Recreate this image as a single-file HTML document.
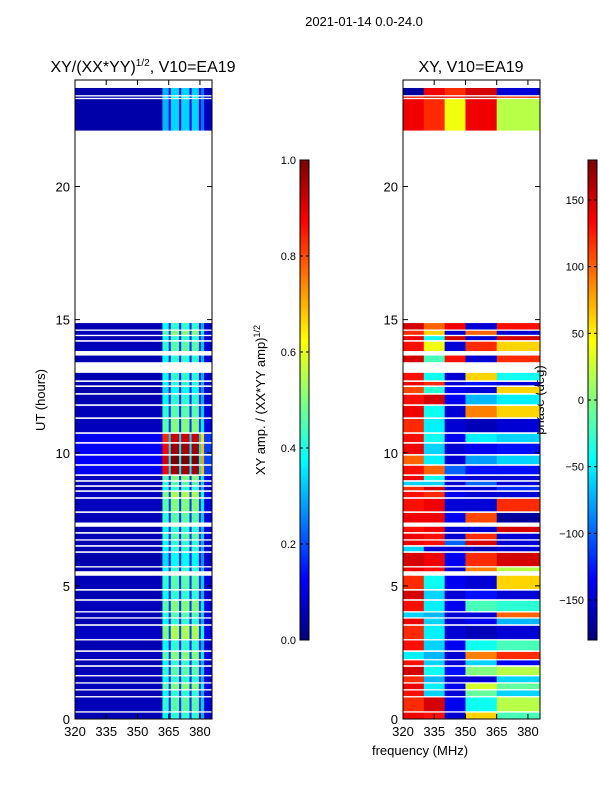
<!DOCTYPE html>
<html><head><meta charset="utf-8"><style>
body{margin:0;background:#fff;}
svg{display:block;font-family:"Liberation Sans",sans-serif;}
</style></head><body>
<svg id="fig" width="600" height="800" xmlns="http://www.w3.org/2000/svg">
<text x="364" y="26" font-size="13" text-anchor="middle">2021-01-14 0.0-24.0</text>
<text x="143" y="72" font-size="16" text-anchor="middle">XY/(XX*YY)<tspan font-size="10" dy="-6">1/2</tspan><tspan dy="6">, V10=EA19</tspan></text>
<text x="471" y="72" font-size="16" text-anchor="middle">XY, V10=EA19</text>
<text transform="translate(45,400) rotate(-90)" font-size="13" text-anchor="middle">UT (hours)</text>
<text x="420" y="755" font-size="13" text-anchor="middle">frequency (MHz)</text>
<text transform="translate(265,400) rotate(-90)" font-size="13" text-anchor="middle">XY amp. / (XX*YY amp)<tspan font-size="9" dy="-5">1/2</tspan></text>
<text transform="translate(544,400) rotate(-90)" font-size="13" text-anchor="middle">phase (deg)</text>
<g id="left"></g><g id="right"></g><g id="cb"></g>
</svg>
<script>
// time rows with data (hours)
const rowStart=[0.02,0.29,0.86,1.12,1.38,1.65,2.02,2.25,2.58,3.0,3.56,3.82,4.05,4.5,4.88,5.55,5.74,6.3,6.53,6.75,7.02,7.38,7.8,8.33,8.59,8.78,8.97,9.19,9.57,9.95,10.4,10.77,11.33,11.82,12.24,12.53,12.72,13.4,13.82,14.23,14.43,14.63,22.1,23.33,23.43];
const rowEnd=[0.24,0.81,1.07,1.33,1.6,1.96,2.2,2.52,2.95,3.5,3.77,4.0,4.44,4.82,5.38,5.69,6.24,6.47,6.7,6.96,7.22,7.74,8.27,8.53,8.72,8.91,9.13,9.51,9.89,10.34,10.71,11.27,11.76,12.18,12.47,12.66,13.0,13.65,14.17,14.38,14.58,14.87,23.28,23.38,23.7];
const ampLevel=[1,1.1,1,1.2,1,1.1,1,1.2,1,1.3,1,1.1,1.2,1,1.1,1,0.9,1,1,1.1,1,1.1,1.2,1.3,1,1.1,1.2,2.3,2.4,2.3,2.2,1.2,1.1,1,0.9,1,1,1,1.1,1,1.2,1,0.8,0.9,0.8];
// amplitude frequency channels
const ampEdges=[320,362,365,366,370,371,375,376,379.5,380.5,382,385.8];
const ampProfile=[0.05,0.38,0.15,0.42,0.15,0.42,0.15,0.42,0.15,0.3,0.08];
// phase bands
const phEdges=[320,330,340,350,365,385.8];
const phase=[[140,130,-150,60,-20],[120,150,-140,-40,20],[130,-60,-150,-10,-60],[140,-50,-140,30,-10],[120,-70,-150,-150,-60],[150,-40,-130,0,20],[130,-60,-150,-60,-140],[-50,-70,-150,90,120],[130,-60,-140,-40,-20],[120,-50,-150,-160,-150],[140,-60,-150,-140,-70],[-60,-70,-150,-150,100],[130,-50,-140,-20,-30],[150,-60,-150,-130,-150],[120,-40,-140,-150,60],[140,130,-150,90,20],[150,140,-140,120,150],[-60,-150,-150,-160,-150],[140,130,-100,150,-150],[140,130,-150,120,-150],[130,140,-150,-150,150],[140,140,-140,110,-170],[130,140,-150,-150,120],[130,120,-140,-150,-150],[120,150,-150,-150,-120],[-60,-60,-150,-100,-150],[140,-40,-140,-150,-150],[130,100,-100,-130,-130],[100,-50,-150,-80,-60],[140,-60,-150,-140,-130],[130,-40,-140,-50,-60],[120,-50,-150,-160,-150],[140,-40,-150,90,60],[130,150,-140,-70,-50],[110,-30,-140,-150,60],[140,120,-150,-130,-150],[130,-40,-150,60,-40],[150,-20,130,-150,120],[130,40,-150,120,60],[140,-40,150,-150,150],[120,60,-150,100,-150],[150,100,140,-150,130],[140,120,40,140,20],[130,150,140,160,120],[-170,140,120,150,-150]];
const ampTicks=[0,0.2,0.4,0.6,0.8,1.0];
const phTicks=[-150,-100,-50,0,50,100,150];
const xTicks=[320,335,350,365,380];
const yTicks=[0,5,10,15,20];

const NS="http://www.w3.org/2000/svg";
function jet(v){v=Math.max(0,Math.min(1,v));
 const f=(x)=>Math.max(0,Math.min(1,1.5-Math.abs(4*v-x)));
 return `rgb(${Math.round(255*f(3))},${Math.round(255*f(2))},${Math.round(255*f(1))})`;}
function el(tag,attrs,parent){const e=document.createElementNS(NS,tag);for(const k in attrs)e.setAttribute(k,attrs[k]);parent.appendChild(e);return e;}
const yS=h=>719-h*(639/24);
function makePanel(gid,x0,isAmp){
 const g=document.getElementById(gid);
 const xS=f=>x0+(f-320)*(137/65.8);
 const edges=isAmp?ampEdges:phEdges;
 for(let r=0;r<rowStart.length;r++){
  for(let c=0;c<edges.length-1;c++){
   const val=isAmp?ampProfile[c]*ampLevel[r]:(phase[r][c]+180)/360;
   const rc=el('rect',{x:xS(edges[c]),y:yS(rowEnd[r]),width:xS(edges[c+1])-xS(edges[c])+0.3,height:yS(rowStart[r])-yS(rowEnd[r]),fill:jet(val)},g);
   
   
  }
 }
 const ax=el('rect',{x:x0,y:80,width:137,height:639,fill:'none',stroke:'#000','stroke-width':1},g);
 
 
 for(const t of xTicks){const x=xS(t);
  el('line',{x1:x,x2:x,y1:719,y2:714,stroke:'#000'},g);el('line',{x1:x,x2:x,y1:80,y2:85,stroke:'#000'},g);
  const tx=el('text',{x:x,y:736,'font-size':13,'text-anchor':'middle'},g);tx.textContent=t;
  
  }
 for(const t of yTicks){const y=yS(t);
  el('line',{x1:x0,x2:x0+5,y1:y,y2:y,stroke:'#000'},g);el('line',{x1:x0+137,x2:x0+132,y1:y,y2:y,stroke:'#000'},g);
  const tx=el('text',{x:x0-5,y:y+5,'font-size':13,'text-anchor':'end'},g);tx.textContent=t;
  
  }
}
makePanel('left',75,true);
makePanel('right',403,false);
function colorbar(x,lo,hi,ticks,name){
 const g=document.getElementById('cb');
 for(let i=0;i<240;i++){const v=i/239;
  el('rect',{x:x,y:640-(i+1)*2,width:9,height:2.3,fill:jet(v)},g);}
 const fr=el('rect',{x:x,y:160,width:9,height:480,fill:'none',stroke:'#000'},g);
 
 
 for(const t of ticks){const y=640-(t-lo)/(hi-lo)*480;
  el('line',{x1:x,x2:x+3,y1:y,y2:y,stroke:'#000'},g);el('line',{x1:x+9,x2:x+6,y1:y,y2:y,stroke:'#000'},g);
  const tx=el('text',{x:x-4,y:y+4,'font-size':11,'text-anchor':'end'},g);
  tx.textContent=(lo===0?t.toFixed(1):String(t).replace('-','\u2212'));
  
  }
}
colorbar(300,0,1,ampTicks,'amp-colorbar');
colorbar(588,-180,180,phTicks,'phase-colorbar');
</script>
</body></html>
